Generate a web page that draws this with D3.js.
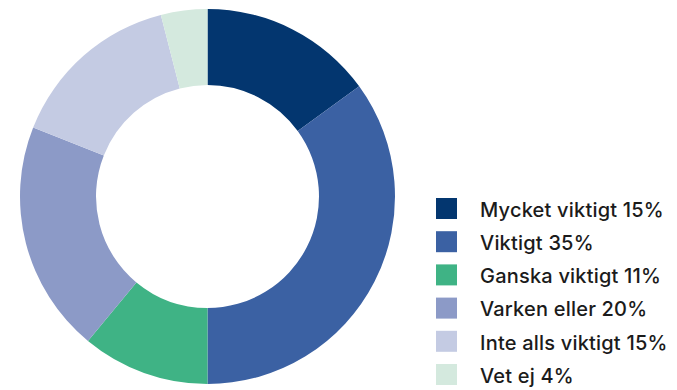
<!DOCTYPE html>
<html>
<head>
<meta charset="utf-8">
<script src="https://cdn.jsdelivr.net/npm/d3@7"></script>
<style>
  html, body { margin: 0; padding: 0; background: #ffffff; }
  svg { display: block; }
</style>
</head>
<body>
<svg id="chart" width="677" height="390"></svg>
<script>
// Survey answers: how important, share of respondents (%)
const categories = ["Mycket viktigt", "Viktigt", "Ganska viktigt", "Varken eller", "Inte alls viktigt", "Vet ej"];
const values = [15, 35, 11, 20, 15, 4];
const colors = ["#03366f", "#3b61a3", "#3fb385", "#8c9ac7", "#c4cbe3", "#d4e9de"];

const svg = d3.select("#chart");

const cx = 207.5, cy = 196.5;
const outerR = 187.5, innerR = 111.5;

const pie = d3.pie().sort(null).value(d => d.value);
const arc = d3.arc().innerRadius(innerR).outerRadius(outerR);

const data = categories.map((c, i) => ({ name: c, value: values[i], color: colors[i] }));

svg.append("g")
  .attr("transform", `translate(${cx},${cy})`)
  .selectAll("path")
  .data(pie(data))
  .join("path")
  .attr("d", arc)
  .attr("fill", d => d.data.color);

// Legend
const legend = svg.append("g").attr("transform", "translate(436,198)");
const rowH = 33.2;
const rows = legend.selectAll("g")
  .data(data)
  .join("g")
  .attr("transform", (d, i) => `translate(0,${i * rowH})`);

rows.append("rect")
  .attr("width", 21)
  .attr("height", 21)
  .attr("fill", d => d.color);

rows.append("text")
  .attr("x", 44)
  .attr("y", 18.7)
  .attr("font-family", "Inter, 'Noto Sans', sans-serif")
  .attr("font-size", 20)
  .attr("font-weight", 500)
  .attr("letter-spacing", 0.2)
  .attr("fill", "#1b1b1b")
  .text(d => `${d.name} ${d.value}%`);
</script>
</body>
</html>
